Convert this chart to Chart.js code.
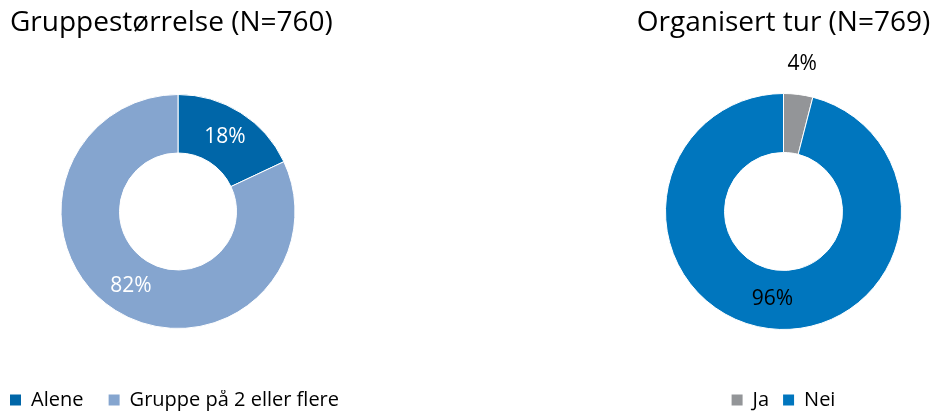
<!DOCTYPE html>
<html>
<head>
<meta charset="utf-8">
<script src="https://cdn.jsdelivr.net/npm/chart.js@4"></script>
<style>
  html, body { margin: 0; padding: 0; background: #fff; overflow: hidden; }
  body { width: 938px; height: 414px; position: relative; }
  .box { position: absolute; top: 0; }
  #leftBox { left: 10px; width: 360px; height: 420px; }
  #rightBox { left: 629px; width: 309px; height: 420px; }
</style>
</head>
<body>
<div class="box" id="leftBox"><canvas id="groupChart"></canvas></div>
<div class="box" id="rightBox"><canvas id="tourChart"></canvas></div>
<script>
// Gruppestørrelse
const groupTitle = 'Gruppestørrelse (N=760)';
const groupLabels = ['Alene', 'Gruppe på 2 eller flere'];
const groupValues = [18, 82];

// Organisert tur
const tourTitle = 'Organisert tur (N=769)';
const tourLabels = ['Ja', 'Nei'];
const tourValues = [4, 96];

const fontFamily = '"Open Sans", Lato, sans-serif';
const titleSize = 28;
const legendSize = 20;
const pctSize = 21;

// Prosentetiketter på hver bit
const pctLabels = {
    id: 'pctLabels',
    afterDatasetsDraw(chart, args, opts) {
        const ctx = chart.ctx;
        const meta = chart.getDatasetMeta(0);
        const values = chart.data.datasets[0].data;
        meta.data.forEach(function (arc, i) {
            let x, y;
            if (opts.outside[i]) {
                const mid = (arc.startAngle + arc.endAngle) / 2;
                const r = arc.outerRadius + opts.offset;
                x = arc.x + Math.cos(mid) * r;
                y = arc.y + Math.sin(mid) * r;
            } else {
                const p = arc.tooltipPosition(true);
                x = p.x;
                y = p.y;
            }
            ctx.save();
            ctx.fillStyle = opts.colors[i];
            ctx.font = pctSize + 'px ' + fontFamily;
            ctx.textAlign = 'center';
            ctx.textBaseline = 'middle';
            ctx.fillText(values[i] + '%', x, y);
            ctx.restore();
        });
    }
};

var ctxGroup = document.getElementById('groupChart').getContext('2d');
var groupChart = new Chart(ctxGroup, {
    type: 'doughnut',
    data: {
        labels: groupLabels,
        datasets: [{
            data: groupValues,
            backgroundColor: ['#0066A8', '#85A5CF'],
            borderColor: '#ffffff',
            borderWidth: 1,
            radius: 117,
            cutout: '50%'
        }]
    },
    options: {
        responsive: true,
        maintainAspectRatio: false,
        animation: false,
        layout: { padding: { left: 0, right: 24, top: 0, bottom: 0 } },
        plugins: {
            title: {
                display: true,
                text: groupTitle,
                align: 'start',
                color: '#000',
                font: { family: fontFamily, size: titleSize, weight: 'normal' },
                padding: { top: 6, bottom: -6.6 }
            },
            legend: {
                display: true,
                position: 'bottom',
                align: 'start',
                labels: {
                    boxWidth: 11,
                    boxHeight: 11,
                    padding: 0,
                    color: '#000',
                    font: { family: fontFamily, size: legendSize },
                    generateLabels: function (chart) {
                        const items = Chart.overrides.doughnut.plugins.legend.labels.generateLabels(chart);
                        items.forEach(function (it, i) {
                            if (i === 0) it.text = it.text + '\u2003 ';
                            it.lineWidth = 0;
                        });
                        return items;
                    }
                }
            },
            tooltip: { enabled: false },
            pctLabels: {
                outside: [false, false],
                offset: 0,
                colors: ['#ffffff', '#ffffff']
            }
        }
    },
    plugins: [pctLabels]
});

var ctxTour = document.getElementById('tourChart').getContext('2d');
var tourChart = new Chart(ctxTour, {
    type: 'doughnut',
    data: {
        labels: tourLabels,
        datasets: [{
            data: tourValues,
            backgroundColor: ['#939598', '#0076BE'],
            borderColor: '#ffffff',
            borderWidth: 1,
            radius: 118,
            cutout: '50%'
        }]
    },
    options: {
        responsive: true,
        maintainAspectRatio: false,
        animation: false,
        plugins: {
            title: {
                display: true,
                text: tourTitle,
                align: 'center',
                color: '#000',
                font: { family: fontFamily, size: titleSize, weight: 'normal' },
                padding: { top: 6, bottom: 7.4 }
            },
            legend: {
                display: true,
                position: 'bottom',
                align: 'center',
                labels: {
                    boxWidth: 11,
                    boxHeight: 11,
                    padding: 14,
                    color: '#000',
                    font: { family: fontFamily, size: legendSize },
                    generateLabels: function (chart) {
                        const items = Chart.overrides.doughnut.plugins.legend.labels.generateLabels(chart);
                        items.forEach(function (it) { it.lineWidth = 0; });
                        return items;
                    }
                }
            },
            tooltip: { enabled: false },
            pctLabels: {
                outside: [true, false],
                offset: 31,
                colors: ['#000000', '#000000']
            }
        }
    },
    plugins: [pctLabels]
});
</script>
</body>
</html>
